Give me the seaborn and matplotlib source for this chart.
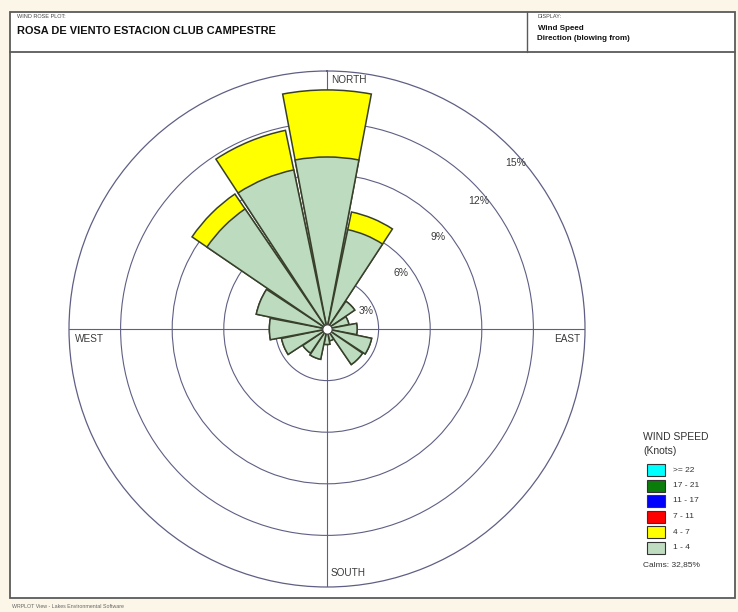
import numpy as np
import pandas as pd
import matplotlib
matplotlib.use("Agg")
import matplotlib.pyplot as plt
from matplotlib.patches import Rectangle
from matplotlib.lines import Line2D
import seaborn as sns

# Wind rose data: frequency (%) per direction sector, by speed class
directions = ["N", "NNE", "NE", "ENE", "E", "ESE", "SE", "SSE",
              "S", "SSW", "SW", "WSW", "W", "WNW", "NW", "NNW"]
speed_1_4 = [10.0, 5.9, 1.95, 1.3, 1.75, 2.65, 2.5, 0.7,
             0.9, 1.8, 1.7, 2.7, 3.35, 4.2, 8.45, 9.45]
speed_4_7 = [3.9, 1.05, 0.0, 0.0, 0.0, 0.0, 0.0, 0.0,
             0.0, 0.0, 0.0, 0.0, 0.0, 0.0, 1.05, 2.35]

ring_values = [3, 6, 9, 12]
ring_labels = ["3%", "6%", "9%", "12%", "15%"]
max_radius = 15

legend_labels = [">= 22", "17 - 21", "11 - 17", "7 - 11", "4 - 7", "1 - 4"]
legend_colors = ["#00ffff", "#0a7d0a", "#0000ff", "#ff0000", "#ffff00", "#bfdcc0"]
calms_text = "Calms: 32,85%"

title = "ROSA DE VIENTO ESTACION CLUB CAMPESTRE"

W, H = 738, 612
sns.set_theme(style="white")
plt.rcParams["font.family"] = ["Liberation Sans", "DejaVu Sans"]

fig = plt.figure(figsize=(W / 100, H / 100), dpi=100)
fig.patch.set_facecolor("#fbf6e7")


def fx(x):
    return x / W


def fy(y):
    return 1 - y / H


# page frame and header boxes
frame_col = "#5a5a5a"
fig.patches.append(Rectangle((fx(10), fy(598)), fx(735) - fx(10), fy(12) - fy(598),
                             transform=fig.transFigure, facecolor="white",
                             edgecolor=frame_col, lw=1.3, zorder=-5))
fig.add_artist(Line2D([fx(10), fx(735)], [fy(52), fy(52)], color=frame_col, lw=1.3))
fig.add_artist(Line2D([fx(527), fx(527)], [fy(12), fy(52)], color=frame_col, lw=1.0))

fig.text(fx(17), fy(17), "WIND ROSE PLOT:", fontsize=4, color="#444444", va="center")
fig.text(fx(17), fy(31), title, fontsize=7.9, fontweight="bold", color="#111111", va="center")
fig.text(fx(537), fy(17), "DISPLAY:", fontsize=4, color="#444444", va="center")
fig.text(fx(538), fy(28), "Wind Speed", fontsize=5.8, fontweight="bold", color="#111111", va="center")
fig.text(fx(537), fy(39), "Direction (blowing from)", fontsize=5.8, fontweight="bold",
         color="#111111", va="center")
fig.text(fx(12), fy(606), "WRPLOT View - Lakes Environmental Software", fontsize=3.8,
         color="#666666", va="center")

# polar wind rose
ax = fig.add_axes([fx(69), fy(329 + 258), 516 / W, 516 / H], projection="polar")
ax.set_zorder(2)
ax.patch.set_alpha(0)

theta = np.deg2rad(np.arange(len(directions)) * 22.5)
df = pd.DataFrame({
    "direction": directions,
    "theta": theta,
    "low": speed_1_4,
    "total": np.add(speed_1_4, speed_4_7),
})

edge = "#38402c"
sns.barplot(data=df, x="theta", y="total", native_scale=True, width=0.95,
            color="#ffff00", saturation=1, edgecolor=edge, linewidth=1.1,
            errorbar=None, ax=ax, zorder=2)
sns.barplot(data=df, x="theta", y="low", native_scale=True, width=0.95,
            color="#bddcbf", saturation=1, edgecolor=edge, linewidth=1.1,
            errorbar=None, ax=ax, zorder=3)

ax.set_theta_zero_location("N")
ax.set_theta_direction(-1)
ax.set_ylim(0, max_radius)
ax.set_yticks(ring_values)
ax.set_yticklabels([])
ax.set_xticks(np.deg2rad([0, 90, 180, 270]))
ax.set_xticklabels([])
ax.set_xlabel("")
ax.set_ylabel("")
ax.set_axisbelow(True)
grid_col = "#5f5f85"
ax.grid(True, color=grid_col, lw=0.8)
ax.spines["polar"].set_color(grid_col)
ax.spines["polar"].set_linewidth(0.9)

# calm circle in the centre
ax.scatter([0], [0], s=45, c="white", edgecolors="#444444", linewidths=0.8,
           zorder=6, clip_on=False)

# compass labels
lab_col = "#3a3a3a"
fig.text(fx(331), fy(80), "NORTH", fontsize=7.2, color=lab_col, va="center", ha="left")
fig.text(fx(75), fy(339), "WEST", fontsize=7.2, color=lab_col, va="center", ha="left")
fig.text(fx(580), fy(339), "EAST", fontsize=7.2, color=lab_col, va="center", ha="right")
fig.text(fx(331), fy(573), "SOUTH", fontsize=7.2, color=lab_col, va="center", ha="left")

# ring labels
ring_pos = [(366, 311), (401, 273), (438, 237), (479, 201), (516, 163)]
for (px, py), lab in zip(ring_pos, ring_labels):
    fig.text(fx(px), fy(py), lab, fontsize=7.5, color=lab_col, ha="center", va="center")

# legend
fig.text(fx(643), fy(437), "WIND SPEED", fontsize=7.5, color="#333333", va="center")
fig.text(fx(643), fy(451), "(Knots)", fontsize=7.5, color="#333333", va="center")
row_y = [470, 485.5, 501, 516.5, 532, 547.5]
for yy, lab, col in zip(row_y, legend_labels, legend_colors):
    fig.patches.append(Rectangle((fx(647), fy(yy + 6)), 18 / W, 12 / H,
                                 transform=fig.transFigure, facecolor=col,
                                 edgecolor="#333333", lw=0.8))
    fig.text(fx(673), fy(yy), lab, fontsize=6, color="#333333", va="center")
fig.text(fx(643), fy(565), calms_text, fontsize=6, color="#333333", va="center")

fig.savefig("out.png", dpi=100, facecolor=fig.get_facecolor())
